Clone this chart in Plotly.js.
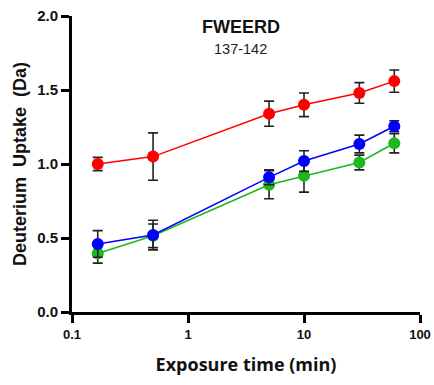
<!DOCTYPE html>
<html><head><meta charset="utf-8">
<script src="https://cdn.plot.ly/plotly-3.0.1.min.js"></script>
<style>html,body{margin:0;padding:0;background:#fff;}</style>
</head><body>
<div id="chart" style="width:434px;height:385px;"></div>
<script>
const times = [0.1667, 0.5, 5, 10, 30, 60];
const redVals = [1.00, 1.05, 1.34, 1.40, 1.48, 1.56];
const redErr = [0.045, 0.16, 0.085, 0.08, 0.07, 0.075];
const blueVals = [0.46, 0.52, 0.91, 1.02, 1.135, 1.255];
const blueErr = [0.09, 0.10, 0.05, 0.07, 0.06, 0.037];
const greenVals = [0.395, 0.515, 0.86, 0.92, 1.01, 1.14];
const greenErr = [0.065, 0.08, 0.095, 0.11, 0.05, 0.065];
const xTickVals = [0.1, 1, 10, 100];
const xTickText = ['0.1', '1', '10', '100'];
const yTickVals = [0, 0.5, 1.0, 1.5, 2.0];
const yTickText = ['0.0', '0.5', '1.0', '1.5', '2.0'];

function tr(y, e, color) {
  return {
    x: times, y: y, type: 'scatter', mode: 'lines+markers',
    line: {color: color, width: 1.5},
    marker: {color: color, size: 12},
    error_y: {type: 'data', array: e, visible: true, color: '#222', thickness: 1.6, width: 5},
    showlegend: false, cliponaxis: false
  };
}
const data = [tr(greenVals, greenErr, '#1cb81c'), tr(blueVals, blueErr, '#0000ff'), tr(redVals, redErr, '#ff0000')];
const font = 'Liberation Sans, Arial, sans-serif';
const layout = {
  width: 434, height: 385,
  margin: {l: 72, r: 14, t: 16, b: 73},
  paper_bgcolor: '#fff', plot_bgcolor: '#fff',
  xaxis: {type: 'log', range: [-1, 2], tickvals: xTickVals, ticktext: xTickText,
    showgrid: false, zeroline: false, showline: true, linecolor: '#000', linewidth: 3,
    ticks: 'outside', ticklen: 8, tickwidth: 3, tickcolor: '#000',
    tickfont: {family: font, size: 13, color: '#111', weight: 'bold'},
    title: {text: 'Exposure time (min)', font: {family: 'Open Sans, sans-serif', size: 18, color: '#111', weight: 'bold'}, standoff: 18}},
  yaxis: {range: [0, 2], tickvals: yTickVals, ticktext: yTickText,
    showgrid: false, zeroline: false, showline: true, linecolor: '#000', linewidth: 3,
    ticks: 'outside', ticklen: 8, tickwidth: 3, tickcolor: '#000',
    tickfont: {family: font, size: 15, color: '#111', weight: 'bold'},
    title: {text: 'Deuterium  Uptake  (Da)', font: {family: font, size: 18, color: '#111', weight: 'bold'}, standoff: 6}},
  annotations: [
    {text: 'FWEERD', xref: 'paper', yref: 'paper', x: 0.485, y: 0.963, showarrow: false, xanchor: 'center', yanchor: 'middle',
     font: {family: font, size: 18, color: '#111', weight: 'bold'}},
    {text: '137-142', xref: 'paper', yref: 'paper', x: 0.485, y: 0.889, showarrow: false, xanchor: 'center', yanchor: 'middle',
     font: {family: font, size: 14.5, color: '#222'}}
  ]
};
Plotly.newPlot('chart', data, layout, {displayModeBar: false, staticPlot: true});
</script>
</body></html>
